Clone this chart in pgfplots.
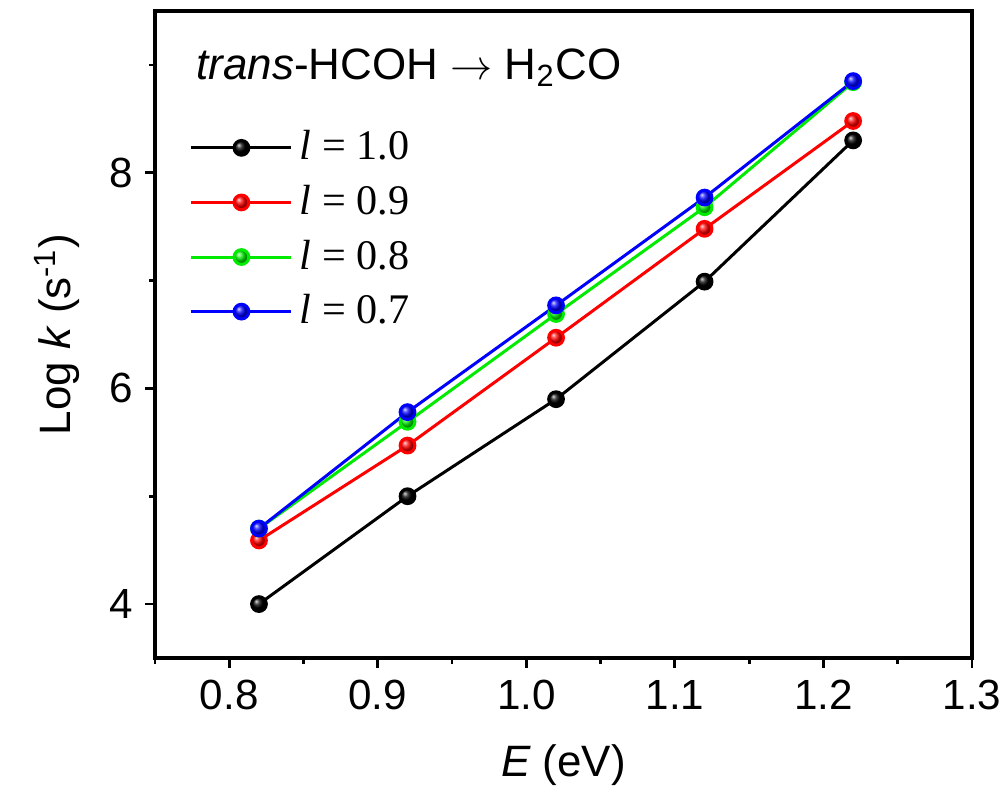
\documentclass[border=0pt]{standalone}
\usepackage{fontspec}
\setmainfont{Liberation Sans}
\newfontfamily\serif{Liberation Serif}
\usepackage{pgfplots}
\pgfplotsset{compat=1.18}
\usetikzlibrary{plotmarks}
\definecolor{cRed}{RGB}{255,0,0}
\definecolor{cGreen}{RGB}{0,235,0}
\definecolor{cBlue}{RGB}{0,0,255}
\begin{document}
\begin{tikzpicture}
\begin{axis}[
  at={(0,0)}, anchor=south west,
  width=8.17cm, height=6.47cm, scale only axis,
  xmin=0.75, xmax=1.3, ymin=3.5, ymax=9.5,
  xtick={0.8,0.9,1.0,1.1,1.2,1.3},
  minor xtick={0.75,0.85,0.95,1.05,1.15,1.25},
  ytick={4,6,8}, minor ytick={5,7,9},
  tick pos=left, tick align=outside,
  major tick length=0.1cm, minor tick length=0.06cm,
  axis line style={line width=0.9pt},
  every tick/.style={line width=0.8pt, black},
  xticklabel style={/pgf/number format/fixed, /pgf/number format/fixed zerofill, /pgf/number format/precision=1},
  /pgf/number format/assume math mode=true,
  tick label style={font=\fontsize{12}{14}\selectfont},
  label style={font=\fontsize{12.5}{14}\selectfont},
  xlabel={\textit{E} (eV)},
  ylabel={Log \textit{k} (s\textsuperscript{-1})},
  xlabel style={yshift=-0.1cm},
  ylabel style={yshift=0.05cm},
  legend style={draw=none, fill=none, at={(0.029,0.838)}, anchor=north west,
    font=\fontsize{12}{14}\selectfont, row sep=0.06cm,
    cells={anchor=west}},
  legend image code/.code={
    \draw[#1, mark repeat=2, mark phase=2] plot coordinates {(0cm,0cm) (0.5cm,0cm) (1cm,0cm)};},
  every axis plot/.append style={line width=0.85pt, mark=ball, mark size=2.1pt},
  clip=false,
]
\addplot[black, mark options={ball color=black}] coordinates {
  (0.82,4.00) (0.92,5.00) (1.02,5.90) (1.12,6.99) (1.22,8.30)};
\addlegendentry{{\serif\textit{l} = 1.0}}
\addplot[cRed, mark options={ball color=cRed}] coordinates {
  (0.82,4.59) (0.92,5.47) (1.02,6.47) (1.12,7.48) (1.22,8.48)};
\addlegendentry{{\serif\textit{l} = 0.9}}
\addplot[cGreen, mark options={ball color=cGreen}] coordinates {
  (0.82,4.70) (0.92,5.69) (1.02,6.69) (1.12,7.68) (1.22,8.84)};
\addlegendentry{{\serif\textit{l} = 0.8}}
\addplot[cBlue, mark options={ball color=cBlue}] coordinates {
  (0.82,4.70) (0.92,5.78) (1.02,6.77) (1.12,7.77) (1.22,8.85)};
\addlegendentry{{\serif\textit{l} = 0.7}}
\node[anchor=west, font=\fontsize{12.5}{14}\selectfont, inner sep=0pt]
  at (rel axis cs:0.05,0.912) {\textit{trans}-HCOH $\rightarrow$ H\textsubscript{2}CO};
\end{axis}
\pgfresetboundingbox
\path (-1.55cm,-1.36cm) rectangle (8.51cm,6.58cm);
\end{tikzpicture}
\end{document}
